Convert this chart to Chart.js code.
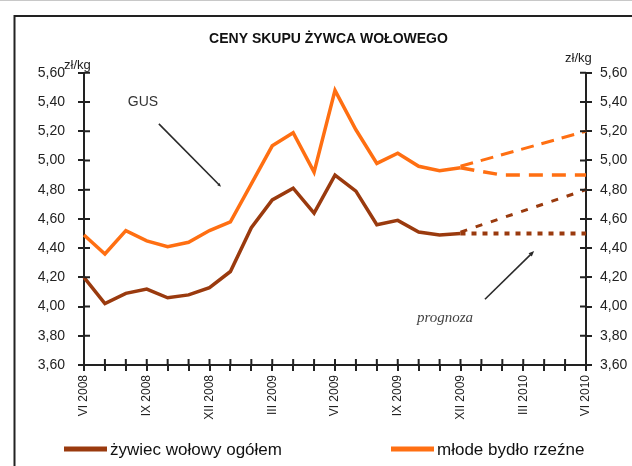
<!DOCTYPE html>
<html>
<head>
<meta charset="utf-8">
<script src="https://cdn.jsdelivr.net/npm/chart.js@4.4.1/dist/chart.umd.min.js"></script>
<style>
  html, body { margin: 0; padding: 0; background: #fff; }
  #wrap { width: 632px; height: 466px; }
</style>
</head>
<body>
<div id="wrap"><canvas id="beefChart" width="632" height="466"></canvas></div>
<script>
// Miesiące VI 2008 - VI 2010
const months = [
    'VI 2008', 'VII 2008', 'VIII 2008', 'IX 2008', 'X 2008', 'XI 2008', 'XII 2008',
    'I 2009', 'II 2009', 'III 2009', 'IV 2009', 'V 2009', 'VI 2009', 'VII 2009',
    'VIII 2009', 'IX 2009', 'X 2009', 'XI 2009', 'XII 2009',
    'I 2010', 'II 2010', 'III 2010', 'IV 2010', 'V 2010', 'VI 2010'
];
const shownMonths = ['VI 2008', 'IX 2008', 'XII 2008', 'III 2009', 'VI 2009', 'IX 2009', 'XII 2009', 'III 2010', 'VI 2010'];

// Ceny (zł/kg) wg GUS
const zywiecOgolem = [4.20, 4.02, 4.09, 4.12, 4.06, 4.08, 4.13, 4.24, 4.54, 4.73, 4.81, 4.64, 4.90, 4.79, 4.56, 4.59, 4.51, 4.49, 4.50];
const mlodeBydlo = [4.49, 4.36, 4.52, 4.45, 4.41, 4.44, 4.52, 4.58, 4.84, 5.10, 5.19, 4.92, 5.48, 5.21, 4.98, 5.05, 4.96, 4.93, 4.95];

// Prognoza (miesiąc, cena)
const progMlodeGora = [['XII 2009', 4.96], ['VI 2010', 5.20]];
const progMlodeDol = [['XII 2009', 4.95], ['II 2010', 4.90], ['VI 2010', 4.90]];
const progOgolemGora = [['XII 2009', 4.51], ['VI 2010', 4.80]];
const progOgolemDol = [['XII 2009', 4.50], ['VI 2010', 4.50]];

const yMin = 3.6, yMax = 5.6, yStep = 0.2;

const BROWN = '#9a3a0e';
const ORANGE = '#ff6f12';
const INK = '#222';

function toPoints(pairs) {
    return pairs.map(p => ({ x: p[0], y: p[1] }));
}

function formatPrice(v) {
    return v.toFixed(2).replace('.', ',');
}

function drawArrow(ctx, x1, y1, x2, y2, head) {
    const ang = Math.atan2(y2 - y1, x2 - x1);
    ctx.beginPath();
    ctx.moveTo(x1, y1);
    ctx.lineTo(x2 - Math.cos(ang) * head * 0.6, y2 - Math.sin(ang) * head * 0.6);
    ctx.stroke();
    ctx.beginPath();
    ctx.moveTo(x2, y2);
    ctx.lineTo(x2 - head * Math.cos(ang - 0.4), y2 - head * Math.sin(ang - 0.4));
    ctx.lineTo(x2 - head * Math.cos(ang + 0.4), y2 - head * Math.sin(ang + 0.4));
    ctx.closePath();
    ctx.fill();
}

// Ramka, krótkie kreski osi, opisy i legenda
const decorPlugin = {
    id: 'decor',
    beforeDraw(chart) {
        const ctx = chart.ctx;
        ctx.save();
        ctx.fillStyle = '#fff';
        ctx.fillRect(0, 0, chart.width, chart.height);
        ctx.strokeStyle = '#c8c8c8';
        ctx.lineWidth = 1;
        ctx.beginPath();
        ctx.moveTo(0, 0.5);
        ctx.lineTo(chart.width, 0.5);
        ctx.stroke();
        ctx.strokeStyle = INK;
        ctx.lineWidth = 2;
        ctx.beginPath();
        ctx.moveTo(14.5, chart.height);
        ctx.lineTo(14.5, 16);
        ctx.lineTo(chart.width, 16);
        ctx.stroke();
        ctx.restore();
    },
    afterDraw(chart) {
        const ctx = chart.ctx;
        const xs = chart.scales.x;
        const ys = chart.scales.y;
        const ys2 = chart.scales.y2;
        const area = chart.chartArea;
        ctx.save();

        // kreski do wewnątrz wykresu
        ctx.strokeStyle = INK;
        ctx.lineWidth = 2;
        ctx.beginPath();
        ys.ticks.forEach(t => {
            const py = ys.getPixelForValue(t.value);
            ctx.moveTo(area.left, py);
            ctx.lineTo(area.left + 6, py);
        });
        ys2.ticks.forEach(t => {
            const py = ys2.getPixelForValue(t.value);
            ctx.moveTo(area.right, py);
            ctx.lineTo(area.right - 6, py);
        });
        months.forEach((m, i) => {
            const px = xs.getPixelForTick(i);
            ctx.moveTo(px, area.bottom);
            ctx.lineTo(px, area.bottom - 6);
        });
        ctx.stroke();

        // jednostki
        ctx.fillStyle = INK;
        ctx.font = '13px "Liberation Sans", Arial, sans-serif';
        ctx.textBaseline = 'middle';
        ctx.textAlign = 'left';
        ctx.fillText('zł/kg', 64, 65);
        ctx.fillText('zł/kg', 565, 58);

        // GUS
        const P = (i, v) => [xs.getPixelForValue(i), ys.getPixelForValue(v)];
        ctx.fillStyle = '#333';
        ctx.font = '14px "Liberation Sans", Arial, sans-serif';
        ctx.textAlign = 'center';
        let p = P(2.82, 5.40);
        ctx.fillText('GUS', p[0], p[1]);
        ctx.strokeStyle = '#2a2a2a';
        ctx.fillStyle = '#2a2a2a';
        ctx.lineWidth = 1.6;
        let a = P(3.58, 5.25), b = P(6.55, 4.82);
        drawArrow(ctx, a[0], a[1], b[0], b[1], 4);

        // prognoza
        ctx.fillStyle = '#444';
        ctx.font = 'italic 15px "Liberation Serif", "Times New Roman", serif';
        p = P(17.26, 3.92);
        ctx.fillText('prognoza', p[0], p[1]);
        ctx.fillStyle = '#2a2a2a';
        a = P(19.17, 4.05);
        b = P(21.52, 4.38);
        drawArrow(ctx, a[0], a[1], b[0], b[1], 6);

        // legenda
        const legendItems = [
            { ds: chart.data.datasets[0], x: 64 },
            { ds: chart.data.datasets[1], x: 391 }
        ];
        ctx.font = '17px "Liberation Sans", Arial, sans-serif';
        ctx.textAlign = 'left';
        ctx.fillStyle = '#111';
        legendItems.forEach(item => {
            ctx.strokeStyle = item.ds.borderColor;
            ctx.lineWidth = 5;
            ctx.beginPath();
            ctx.moveTo(item.x, 449);
            ctx.lineTo(item.x + 43, 449);
            ctx.stroke();
            ctx.fillText(item.ds.label, item.x + 46, 450);
        });
        ctx.restore();
    }
};

const ctx = document.getElementById('beefChart').getContext('2d');
const tickFont = { family: '"Liberation Sans", Arial, sans-serif', size: 14 };

const beefChart = new Chart(ctx, {
    type: 'line',
    data: {
        labels: months,
        datasets: [
            {
                label: 'żywiec wołowy ogółem',
                data: zywiecOgolem,
                borderColor: BROWN,
                borderWidth: 3.5,
                pointRadius: 0,
                tension: 0
            },
            {
                label: 'młode bydło rzeźne',
                data: mlodeBydlo,
                borderColor: ORANGE,
                borderWidth: 3.5,
                pointRadius: 0,
                tension: 0
            },
            {
                label: 'prognoza młode bydło (górna)',
                data: toPoints(progMlodeGora),
                borderColor: ORANGE,
                borderWidth: 3,
                borderDash: [13, 8],
                pointRadius: 0
            },
            {
                label: 'prognoza młode bydło (dolna)',
                data: toPoints(progMlodeDol),
                borderColor: ORANGE,
                borderWidth: 3.5,
                borderDash: [14, 9],
                pointRadius: 0
            },
            {
                label: 'prognoza żywiec ogółem (górna)',
                data: toPoints(progOgolemGora),
                borderColor: BROWN,
                borderWidth: 3,
                borderDash: [7, 9],
                pointRadius: 0
            },
            {
                label: 'prognoza żywiec ogółem (dolna)',
                data: toPoints(progOgolemDol),
                borderColor: BROWN,
                borderWidth: 4,
                borderDash: [5, 6],
                pointRadius: 0
            }
        ]
    },
    options: {
        responsive: false,
        animation: false,
        devicePixelRatio: 1,
        layout: { padding: { left: 25, right: 0, top: 0, bottom: 0 } },
        plugins: {
            legend: { display: false },
            tooltip: { enabled: false },
            title: {
                display: true,
                text: 'CENY SKUPU ŻYWCA WOŁOWEGO',
                color: '#111',
                font: { family: '"Liberation Sans", Arial, sans-serif', size: 14, weight: 'bold' },
                padding: { top: 31, bottom: 25 }
            }
        },
        scales: {
            x: {
                type: 'category',
                offset: false,
                grid: { drawOnChartArea: false, tickLength: 6, color: INK, lineWidth: 2, offset: false },
                border: { color: INK, width: 2 },
                ticks: {
                    autoSkip: false,
                    maxRotation: 90,
                    minRotation: 90,
                    padding: 4,
                    color: '#222',
                    font: { family: '"Liberation Sans", Arial, sans-serif', size: 12 },
                    callback: function(value, index) {
                        const m = months[index];
                        return shownMonths.includes(m) ? m : '';
                    }
                },
                afterFit: function(scale) { scale.height = 101; }
            },
            y: {
                position: 'left',
                min: yMin,
                max: yMax,
                grid: { drawOnChartArea: false, tickLength: 6, color: INK, lineWidth: 2 },
                border: { color: INK, width: 2 },
                ticks: {
                    stepSize: yStep,
                    padding: 13,
                    color: '#222',
                    font: tickFont,
                    callback: v => formatPrice(v)
                },
                afterFit: function(scale) { scale.width = 59; }
            },
            y2: {
                position: 'right',
                min: yMin,
                max: yMax,
                grid: { drawOnChartArea: false, tickLength: 6, color: INK, lineWidth: 2 },
                border: { color: INK, width: 2 },
                ticks: {
                    stepSize: yStep,
                    padding: 8,
                    color: '#222',
                    font: tickFont,
                    callback: v => formatPrice(v)
                },
                afterFit: function(scale) { scale.width = 46; }
            }
        }
    },
    plugins: [decorPlugin]
});
</script>
</body>
</html>
